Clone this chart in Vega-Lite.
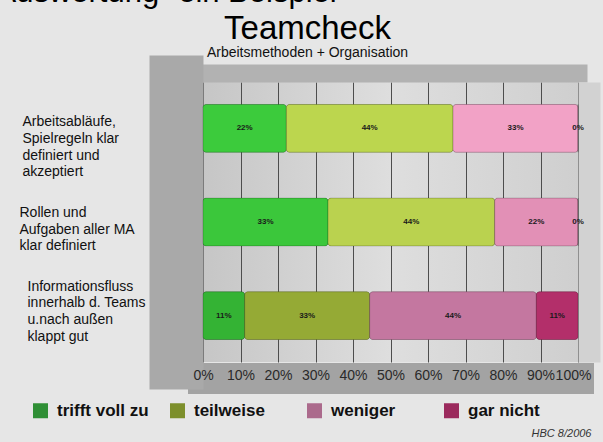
{
  "$schema": "https://vega.github.io/schema/vega-lite/v6.json",
  "width": 375,
  "height": 280,
  "autosize": "none",
  "padding": {"left": 203, "top": 82, "right": 25, "bottom": 80},
  "background": "#e6e6e6",
  "config": {
    "font": "Liberation Sans",
    "view": {
      "stroke": null,
      "fill": {"gradient": "linear", "x1": 0, "y1": 0, "x2": 1, "y2": 0,
        "stops": [{"offset": 0, "color": "#c6c6c6"}, {"offset": 0.5, "color": "#dedede"}, {"offset": 1, "color": "#cfcfcf"}]}
    }
  },
  "title": {
    "text": "Teamcheck",
    "subtitle": "Arbeitsmethoden + Organisation",
    "anchor": "middle",
    "frame": "group",
    "dx": -83,
    "dy": 91,
    "offset": 7,
    "font": "Liberation Sans",
    "fontSize": 33,
    "fontWeight": "normal",
    "color": "#000000",
    "subtitleFont": "Liberation Sans",
    "subtitleFontSize": 14,
    "subtitleColor": "#111111",
    "subtitlePadding": 0
  },
  "data": {
    "values": [
      {"frage": "Arbeitsabläufe,|Spielregeln  klar|definiert und|akzeptiert", "antwort": "trifft voll zu", "ord": 1, "anteil": 0.22, "segment": "Frage 1 / trifft voll zu"},
      {"frage": "Arbeitsabläufe,|Spielregeln  klar|definiert und|akzeptiert", "antwort": "teilweise", "ord": 2, "anteil": 0.44, "segment": "Frage 1 / teilweise"},
      {"frage": "Arbeitsabläufe,|Spielregeln  klar|definiert und|akzeptiert", "antwort": "weniger", "ord": 3, "anteil": 0.33, "segment": "Frage 1 / weniger"},
      {"frage": "Arbeitsabläufe,|Spielregeln  klar|definiert und|akzeptiert", "antwort": "gar nicht", "ord": 4, "anteil": 0.0, "segment": "Frage 1 / gar nicht"},
      {"frage": "Rollen und|Aufgaben aller MA|klar definiert", "antwort": "trifft voll zu", "ord": 1, "anteil": 0.33, "segment": "Frage 2 / trifft voll zu"},
      {"frage": "Rollen und|Aufgaben aller MA|klar definiert", "antwort": "teilweise", "ord": 2, "anteil": 0.44, "segment": "Frage 2 / teilweise"},
      {"frage": "Rollen und|Aufgaben aller MA|klar definiert", "antwort": "weniger", "ord": 3, "anteil": 0.22, "segment": "Frage 2 / weniger"},
      {"frage": "Rollen und|Aufgaben aller MA|klar definiert", "antwort": "gar nicht", "ord": 4, "anteil": 0.0, "segment": "Frage 2 / gar nicht"},
      {"frage": "Informationsfluss|innerhalb d. Teams|u.nach außen|klappt gut", "antwort": "trifft voll zu", "ord": 1, "anteil": 0.11, "segment": "Frage 3 / trifft voll zu"},
      {"frage": "Informationsfluss|innerhalb d. Teams|u.nach außen|klappt gut", "antwort": "teilweise", "ord": 2, "anteil": 0.33, "segment": "Frage 3 / teilweise"},
      {"frage": "Informationsfluss|innerhalb d. Teams|u.nach außen|klappt gut", "antwort": "weniger", "ord": 3, "anteil": 0.44, "segment": "Frage 3 / weniger"},
      {"frage": "Informationsfluss|innerhalb d. Teams|u.nach außen|klappt gut", "antwort": "gar nicht", "ord": 4, "anteil": 0.11, "segment": "Frage 3 / gar nicht"}
    ]
  },
  "transform": [
    {"stack": "anteil", "groupby": ["frage"], "sort": [{"field": "ord", "order": "ascending"}], "offset": "normalize", "as": ["x0", "x1"]},
    {"calculate": "(datum.x0 + datum.x1) / 2", "as": "mitte"}
  ],
  "layer": [
    {
      "mark": {"type": "bar", "cornerRadius": 3},
      "encoding": {
        "x": {
          "field": "x0", "type": "quantitative",
          "scale": {"domain": [0, 1], "nice": false, "zero": true},
          "axis": {
            "orient": "bottom",
            "values": [0, 0.1, 0.2, 0.3, 0.4, 0.5, 0.6, 0.7, 0.8, 0.9, 1],
            "grid": true,
            "gridColor": "#4d4d4d",
            "gridWidth": 1,
            "labels": false,
            "ticks": false,
            "tickSize": 0,
            "domain": true,
            "domainColor": "#a3a3a3",
            "domainWidth": 31,
            "domainCap": "square",
            "offset": 16,
            "title": null
          }
        },
        "x2": {"field": "x1"},
        "y": {
          "field": "frage", "type": "nominal", "sort": null,
          "scale": {"paddingInner": 0.49, "paddingOuter": 0.24},
          "axis": {
            "orient": "left",
            "title": null,
            "offset": 27,
            "domain": true,
            "domainColor": "#a9a9a9",
            "domainWidth": 54,
            "domainCap": "square",
            "ticks": false,
            "tickSize": 0,
            "grid": false,
            "labelExpr": "split(datum.label, '|')",
            "labelAlign": "left",
            "labelBaseline": "middle",
            "labelFont": "Liberation Sans",
            "labelFontSize": 14,
            "labelLineHeight": 16.7,
            "labelColor": "#111111",
            "labelLimit": 0,
            "labelPadding": {"condition": [
              {"test": "indexof(datum.value, 'Rollen') >= 0", "value": 157},
              {"test": "indexof(datum.value, 'Informations') >= 0", "value": 149}
            ], "value": 154},
            "labelOffset": {"condition": [
              {"test": "indexof(datum.value, 'Rollen') >= 0", "value": -9},
              {"test": "indexof(datum.value, 'Informations') >= 0", "value": -29}
            ], "value": -6}
          }
        },
        "color": {
          "field": "antwort", "type": "nominal",
          "scale": {"domain": ["trifft voll zu", "teilweise", "weniger", "gar nicht"], "range": ["#2f8f35", "#7d8f2c", "#ab6a8c", "#9b2a5d"]},
          "legend": {
            "orient": "none",
            "legendX": -171,
            "legendY": 320,
            "direction": "horizontal",
            "columns": 4,
            "gridAlign": "all",
            "padding": 0,
            "title": null,
            "symbolType": "square",
            "symbolSize": 225,
            "symbolStrokeWidth": 0,
            "symbolOpacity": 1,
            "labelFont": "Liberation Sans",
            "labelFontSize": 17,
            "labelFontWeight": "bold",
            "labelColor": "#111111",
            "labelOffset": 8,
            "labelLimit": 0,
            "columnPadding": 20
          }
        }
      }
    },
    {
      "mark": {"type": "bar", "cornerRadius": 3, "stroke": "#000000", "strokeOpacity": 0.2, "strokeWidth": 1},
      "encoding": {
        "x": {
          "field": "x0", "type": "quantitative",
          "axis": {
            "orient": "bottom",
            "zindex": 1,
            "values": [0, 0.1, 0.2, 0.3, 0.4, 0.5, 0.6, 0.7, 0.8, 0.9, 1],
            "format": ".0%",
            "grid": false,
            "ticks": false,
            "tickSize": 0,
            "domain": false,
            "offset": 16,
            "labelFont": "Liberation Sans",
            "labelFontSize": 14,
            "labelColor": "#2a2a2a",
            "labelBaseline": "alphabetic",
            "labelPadding": 1,
            "labelFlush": false,
            "labelOverlap": false,
            "labelBound": false,
            "labelOffset": {"condition": {"test": "datum.value >= 1", "value": -5}, "value": 0},
            "title": "HBC 8/2006",
            "titleFont": "Liberation Sans",
            "titleFontSize": 11,
            "titleFontStyle": "italic",
            "titleFontWeight": "normal",
            "titleColor": "#333333",
            "titleAlign": "right",
            "titleBaseline": "alphabetic",
            "titleX": 388,
            "titleY": 58
          }
        },
        "x2": {"field": "x1"},
        "y": {
          "field": "frage", "type": "nominal", "sort": null,
          "axis": {"orient": "right", "title": null, "labels": false, "ticks": false, "grid": false, "offset": 11, "domain": true, "domainColor": "#d2d2d2", "domainWidth": 22, "domainCap": "butt"}
        },
        "fill": {
          "field": "segment", "type": "nominal",
          "scale": {
            "domain": ["Frage 1 / trifft voll zu", "Frage 1 / teilweise", "Frage 1 / weniger", "Frage 1 / gar nicht",
                       "Frage 2 / trifft voll zu", "Frage 2 / teilweise", "Frage 2 / weniger", "Frage 2 / gar nicht",
                       "Frage 3 / trifft voll zu", "Frage 3 / teilweise", "Frage 3 / weniger", "Frage 3 / gar nicht"],
            "range": ["#3ccb3c", "#bcd64e", "#f2a2c6", "#b0306a",
                      "#3bc73b", "#bad24f", "#e290b6", "#b0306a",
                      "#34b334", "#95aa35", "#c477a0", "#b32f6a"]
          },
          "legend": null
        }
      }
    },
    {
      "mark": {"type": "text", "font": "Liberation Sans", "fontWeight": "bold", "fontSize": 8, "color": "#1a1a1a"},
      "encoding": {
        "x": {
          "field": "mitte", "type": "quantitative",
          "axis": {
            "orient": "top", "labels": false, "ticks": false, "grid": false,
            "offset": 9, "domain": true, "domainColor": "#b2b2b2", "domainWidth": 18, "domainCap": "square",
            "title": "Auswertung- ein Beispiel",
            "titleFont": "Liberation Sans",
            "titleFontSize": 31,
            "titleFontWeight": "normal",
            "titleColor": "#000000",
            "titleAlign": "left",
            "titleBaseline": "alphabetic",
            "titleX": -208,
            "titleY": -72
          }
        },
        "y": {"field": "frage", "type": "nominal", "sort": null, "axis": null},
        "text": {"field": "anteil", "type": "quantitative", "format": ".0%"}
      }
    }
  ],
  "resolve": {"axis": {"x": "independent", "y": "independent"}}
}
